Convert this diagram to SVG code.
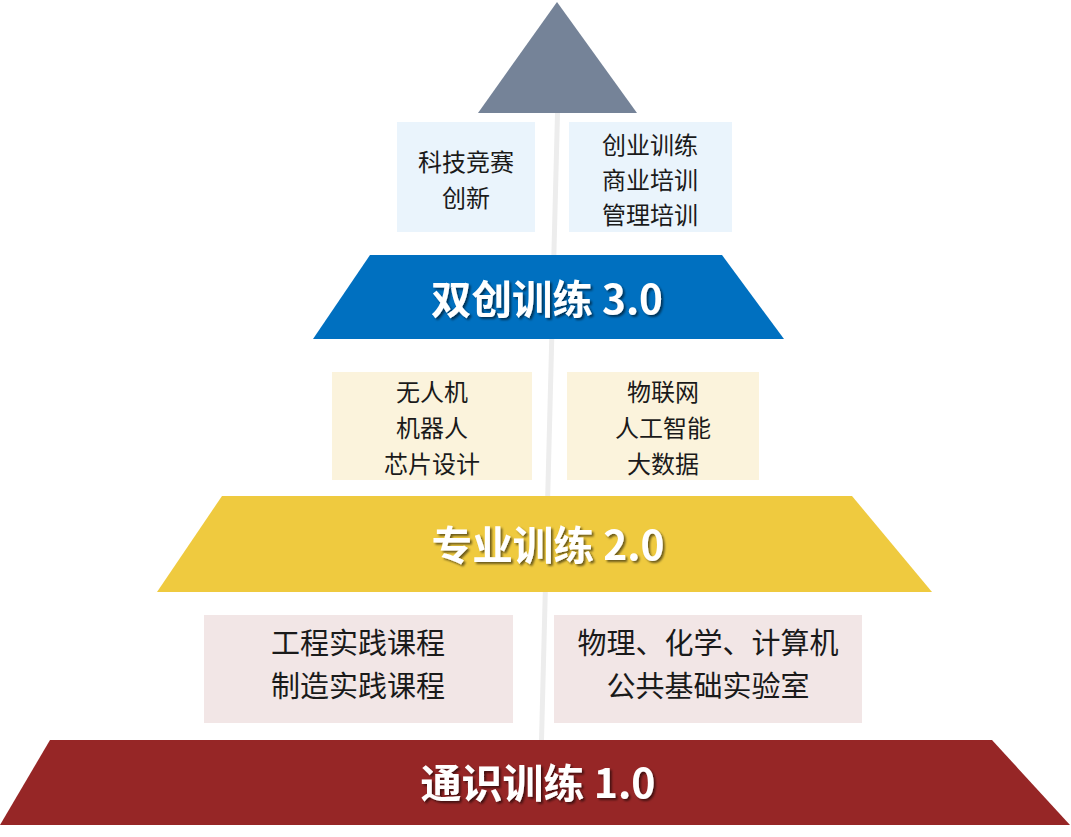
<svg xmlns="http://www.w3.org/2000/svg" width="1071" height="837" viewBox="0 0 1071 837">
  <defs>
    <style>
      .box-blue { fill: #EAF4FC; }
      .box-cream { fill: #FBF3DC; }
      .box-pink { fill: #F2E6E6; }
      .body { font-family: "Noto Sans CJK SC", "Liberation Sans", sans-serif; font-size: 24px; fill: #1a1a1a; text-anchor: middle; dominant-baseline: central; }
      .body28 { font-size: 29px; }
      .title { font-family: "Noto Sans CJK SC", "Liberation Sans", sans-serif; font-weight: 700; font-size: 40px; fill: #ffffff; text-anchor: middle; dominant-baseline: central; filter: url(#shadow); }
    </style>
    <filter id="shadow" x="-10%" y="-20%" width="120%" height="150%">
      <feDropShadow dx="2" dy="2" stdDeviation="1.2" flood-color="#000000" flood-opacity="0.55"/>
    </filter>
  </defs>
  <rect width="1071" height="837" fill="#ffffff"/>

  <g id="connectors">
    <polygon points="555,113 560,113 544,740 539,740" fill="#EDEDED"/>
  </g>

  <g id="apex">
    <polygon points="557,2 637,113 478,113" fill="#758398"/>
  </g>

  <g id="box-competition">
    <rect class="box-blue" x="397" y="122" width="138" height="110"/>
    <text class="body" x="466" y="160">科技竞赛</text>
    <text class="body" x="466" y="196">创新</text>
  </g>
  <g id="box-business">
    <rect class="box-blue" x="569" y="122" width="163" height="110"/>
    <text class="body" x="650" y="143">创业训练</text>
    <text class="body" x="650" y="178">商业培训</text>
    <text class="body" x="650" y="213">管理培训</text>
  </g>

  <g id="level-3">
    <polygon points="370,255 722,255 784,339 313,339" fill="#0070C0"/>
    <text class="title" x="547" y="297" textLength="232" lengthAdjust="spacingAndGlyphs">双创训练 3.0</text>
  </g>

  <g id="box-tech1">
    <rect class="box-cream" x="332" y="372" width="200" height="108"/>
    <text class="body" x="432" y="390">无人机</text>
    <text class="body" x="432" y="426">机器人</text>
    <text class="body" x="432" y="462">芯片设计</text>
  </g>
  <g id="box-tech2">
    <rect class="box-cream" x="567" y="372" width="192" height="108"/>
    <text class="body" x="663" y="390">物联网</text>
    <text class="body" x="663" y="426">人工智能</text>
    <text class="body" x="663" y="462">大数据</text>
  </g>

  <g id="level-2">
    <polygon points="222,496 852,496 932,592 157,592" fill="#EFCA3F"/>
    <text class="title" x="548" y="543" textLength="233" lengthAdjust="spacingAndGlyphs">专业训练 2.0</text>
  </g>

  <g id="box-courses">
    <rect class="box-pink" x="204" y="615" width="309" height="108"/>
    <text class="body body28" x="358" y="641">工程实践课程</text>
    <text class="body body28" x="358" y="684">制造实践课程</text>
  </g>
  <g id="box-labs">
    <rect class="box-pink" x="554" y="615" width="308" height="108"/>
    <text class="body body28" x="708" y="641">物理、化学、计算机</text>
    <text class="body body28" x="708" y="684">公共基础实验室</text>
  </g>

  <g id="level-1">
    <polygon points="50,740 992,740 1070,825 0,825" fill="#962626"/>
    <text class="title" x="538" y="781" textLength="235" lengthAdjust="spacingAndGlyphs">通识训练 1.0</text>
  </g>
</svg>
